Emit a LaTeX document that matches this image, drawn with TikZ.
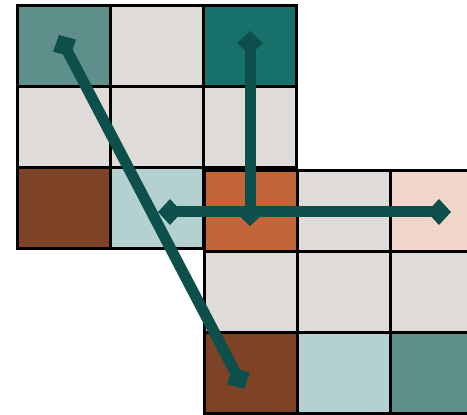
\documentclass[tikz,border=0pt]{standalone}
\usepackage{tikz}
\usepackage{xcolor}
\usetikzlibrary{arrows.meta}

\definecolor{tealmid}{HTML}{5F8F8B}
\definecolor{tealdark}{HTML}{17706A}
\definecolor{cellgray}{HTML}{DEDBD8}
\definecolor{rust}{HTML}{7E4226}
\definecolor{paleblue}{HTML}{B5D0D1}
\definecolor{copper}{HTML}{C2663A}
\definecolor{blush}{HTML}{F0D5C8}
\definecolor{linkteal}{HTML}{0D4F4A}

\begin{document}
\begin{tikzpicture}[x=0.5pt, y=-0.5pt,
    cell/.style={draw, line width=1.5pt, minimum width=46.5pt, minimum height=40.5pt, inner sep=0pt},
    link/.style={draw=linkteal, line width=5.5pt, {Diamond[length=12pt,width=13pt]}-{Diamond[length=12pt,width=13pt]}}]
    \useasboundingbox (0,0) rectangle (467,415);

    % First grid
    \node[cell, fill=tealmid] (a11) at (63.5,46.5) {};
    \node[cell, fill=cellgray] (a12) at (156.5,46.5) {};
    \node[cell, fill=tealdark] (a13) at (249.5,46.5) {};
    \node[cell, fill=cellgray] (a21) at (63.5,127.5) {};
    \node[cell, fill=cellgray] (a22) at (156.5,127.5) {};
    \node[cell, fill=cellgray] (a23) at (249.5,127.5) {};
    \node[cell, fill=rust] (a31) at (63.5,208.5) {};
    \node[cell, fill=paleblue] (a32) at (156.5,208.5) {};
    \node[cell, fill=copper] (a33) at (249.5,208.5) {};

    % Second grid
    \node[cell, fill=copper] (b11) at (250.5,211.5) {};
    \node[cell, fill=cellgray] (b12) at (343.5,211.5) {};
    \node[cell, fill=blush] (b13) at (436.5,211.5) {};
    \node[cell, fill=cellgray] (b21) at (250.5,292.5) {};
    \node[cell, fill=cellgray] (b22) at (343.5,292.5) {};
    \node[cell, fill=cellgray] (b23) at (436.5,292.5) {};
    \node[cell, fill=rust] (b31) at (250.5,373.5) {};
    \node[cell, fill=paleblue] (b32) at (343.5,373.5) {};
    \node[cell, fill=tealmid] (b33) at (436.5,373.5) {};

    % Link end points
    \coordinate (diagtop) at (59,35);
    \coordinate (diagbot) at (244,389);
    \coordinate (verttop) at (250,31);
    \coordinate (vertbot) at (250,226);
    \coordinate (horleft) at (158,212);
    \coordinate (horright) at (451,212);

    % Links
    \draw[link] (diagtop) -- (diagbot);
    \draw[link] (verttop) -- (vertbot);
    \draw[link] (horleft) -- (horright);
\end{tikzpicture}
\end{document}
